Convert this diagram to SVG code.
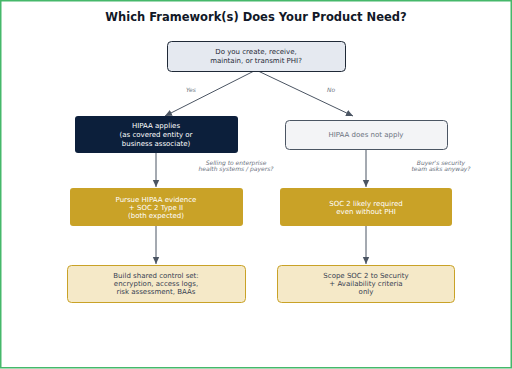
<svg xmlns="http://www.w3.org/2000/svg" width="512" height="369" viewBox="0 0 512 369">
<style>
text{font-family:"DejaVu Sans",sans-serif;text-anchor:middle}
.t{font-size:7px}
.lbl{font-size:6px;font-style:italic;fill:#6b7280}
.e{stroke:#4b5563;stroke-width:1;fill:none}
</style>
<defs>
<marker id="ah" markerWidth="8" markerHeight="8" refX="7" refY="4" orient="auto" markerUnits="userSpaceOnUse">
<path d="M0,0.8 L7,4 L0,7.2 z" fill="#4b5563"/>
</marker>
</defs>
<rect x="0.75" y="0.75" width="510.5" height="367" fill="#ffffff" stroke="#45b86a" stroke-width="1.5"/>
<text x="256" y="21" style="font-size:11.5px;font-weight:bold;fill:#111827">Which Framework(s) Does Your Product Need?</text>
<g id="connectors">
<path class="e" d="M256,70 L165,116" marker-end="url(#ah)"/>
<path class="e" d="M256,70 L353,116" marker-end="url(#ah)"/>
<path class="e" d="M156,153 L156,187" marker-end="url(#ah)"/>
<path class="e" d="M366,149 L366,187" marker-end="url(#ah)"/>
<path class="e" d="M156,226 L156,264" marker-end="url(#ah)"/>
<path class="e" d="M366,226 L366,264" marker-end="url(#ah)"/>
<text class="lbl" x="191" y="92">Yes</text>
<text class="lbl" x="331" y="92">No</text>
<text class="lbl" x="236" y="165">Selling to enterprise</text>
<text class="lbl" x="236" y="171">health systems / payers?</text>
<text class="lbl" x="441" y="165">Buyer's security</text>
<text class="lbl" x="441" y="171">team asks anyway?</text>
</g>
<g id="q">
<rect x="167.5" y="41.5" width="178" height="30" rx="4" fill="#e5e9f0" stroke="#1f2937" stroke-width="1"/>
<text class="t" x="256" y="54" fill="#1f2937">Do you create, receive,</text>
<text class="t" x="256" y="63" fill="#1f2937">maintain, or transmit PHI?</text>
</g>
<g id="yes">
<rect x="75" y="116" width="163" height="37" rx="3" fill="#0c1f3b"/>
<text class="t" x="156" y="128" fill="#ffffff">HIPAA applies</text>
<text class="t" x="156" y="137" fill="#ffffff">(as covered entity or</text>
<text class="t" x="156" y="146" fill="#ffffff">business associate)</text>
</g>
<g id="no">
<rect x="285.5" y="120.5" width="162" height="29" rx="4" fill="#f3f4f6" stroke="#4b5563" stroke-width="1"/>
<text class="t" x="366" y="137" fill="#6b7280">HIPAA does not apply</text>
</g>
<g id="pursue">
<rect x="70" y="188" width="173" height="38" rx="3" fill="#c9a227"/>
<text class="t" x="156" y="202" fill="#ffffff">Pursue HIPAA evidence</text>
<text class="t" x="156" y="210" fill="#ffffff">+ SOC 2 Type II</text>
<text class="t" x="156" y="218" fill="#ffffff">(both expected)</text>
</g>
<g id="soc2">
<rect x="280" y="188" width="172" height="38" rx="3" fill="#c9a227"/>
<text class="t" x="366" y="206" fill="#ffffff">SOC 2 likely required</text>
<text class="t" x="366" y="214" fill="#ffffff">even without PHI</text>
</g>
<g id="build">
<rect x="67.5" y="265.5" width="178" height="37" rx="4" fill="#f5e9c8" stroke="#c9a227" stroke-width="1"/>
<text class="t" x="156" y="278" fill="#374151">Build shared control set:</text>
<text class="t" x="156" y="286" fill="#374151">encryption, access logs,</text>
<text class="t" x="156" y="294" fill="#374151">risk assessment, BAAs</text>
</g>
<g id="scope">
<rect x="277.5" y="265.5" width="177" height="37" rx="4" fill="#f5e9c8" stroke="#c9a227" stroke-width="1"/>
<text class="t" x="366" y="278" fill="#374151">Scope SOC 2 to Security</text>
<text class="t" x="366" y="286" fill="#374151">+ Availability criteria</text>
<text class="t" x="366" y="294" fill="#374151">only</text>
</g>
</svg>
